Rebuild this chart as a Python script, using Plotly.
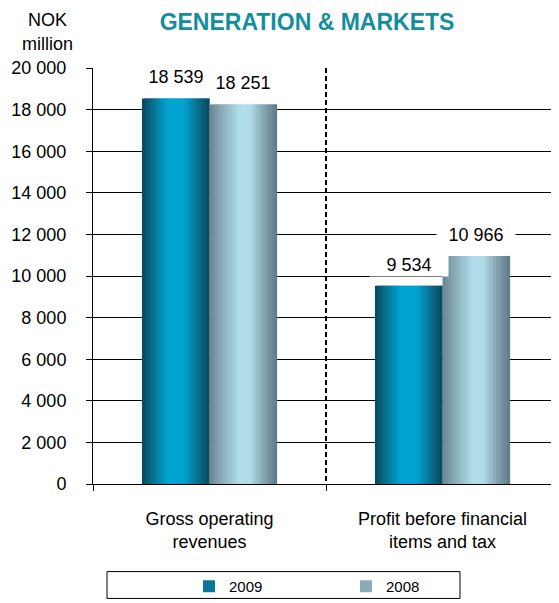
import plotly.graph_objects as go

categories = ["Gross operating<br>revenues", "Profit before financial<br>items and tax"]
series_names = ["2009", "2008"]
values_2009 = [18539, 9534]
values_2008 = [18251, 10966]
y_ticks = list(range(0, 20001, 2000))

# styling (the page body has an 8px default margin, so the figure is 8px smaller)
W, H = 551, 595
BAR_W = 0.29
N_SLICES = 24
stops_2009 = [(0.0, (8, 70, 90)), (0.15, (10, 110, 140)), (0.38, (0, 164, 210)), (0.62, (2, 162, 208)),
              (0.85, (10, 105, 135)), (1.0, (8, 72, 92))]
stops_2008 = [(0.0, (105, 133, 143)), (0.2, (140, 175, 188)), (0.45, (178, 222, 236)), (0.6, (176, 220, 234)),
              (0.82, (130, 160, 172)), (1.0, (92, 122, 134))]


def interp(stops, t):
    for (t0, c0), (t1, c1) in zip(stops[:-1], stops[1:]):
        if t0 <= t <= t1:
            f = (t - t0) / (t1 - t0) if t1 > t0 else 0
            c = [round(a + (b - a) * f) for a, b in zip(c0, c1)]
            return "rgb(%d,%d,%d)" % tuple(c)
    return "rgb(%d,%d,%d)" % stops[-1][1]


fig = go.Figure()
sw = BAR_W / N_SLICES
for name, vals, stops, base_off, legend_k in [
    ("2009", values_2009, stops_2009, -BAR_W, 4),
    ("2008", values_2008, stops_2008, 0.0, 4),
]:
    for k in range(N_SLICES):
        t = (k + 0.5) / N_SLICES
        fig.add_trace(go.Bar(
            x=categories, y=vals, name=name, legendgroup=name,
            showlegend=(k == legend_k),
            width=sw * (2.0 if k < N_SLICES - 1 else 1.0), offset=base_off + k * sw,
            marker=dict(color=interp(stops, t), line=dict(width=0)),
            hoverinfo="skip" if k != N_SLICES // 2 else "x+y+name",
        ))

# value labels with white boxes
for i, cat in enumerate(categories):
    for vals, dx in [(values_2009, -BAR_W / 2), (values_2008, BAR_W / 2)]:
        fig.add_annotation(
            x=i + dx, y=vals[i], xref="x", yref="y",
            text=f"{vals[i]:,}".replace(",", " "),
            showarrow=False, yanchor="bottom", yshift=9,
            bgcolor="white", width=76, borderpad=1,
            font=dict(family="Arial, Liberation Sans", size=18, color="black"),
        )

fig.add_annotation(text="NOK", xref="paper", yref="paper", x=(47 - 93) / 466, y=(486 - 20) / 418,
                   showarrow=False, xanchor="center", yanchor="middle",
                   font=dict(family="Arial, Liberation Sans", size=18, color="black"))
fig.add_annotation(text="million", xref="paper", yref="paper", x=(47 - 93) / 466, y=(486 - 44) / 418,
                   showarrow=False, xanchor="center", yanchor="middle",
                   font=dict(family="Arial, Liberation Sans", size=18, color="black"))

# legend box
fig.add_shape(type="rect", xref="paper", yref="paper",
              x0=(107 - 93) / 466, x1=(460 - 93) / 466,
              y0=(486 - 601) / 418, y1=(486 - 574) / 418,
              line=dict(color="black", width=1), fillcolor="rgba(0,0,0,0)")

fig.update_layout(
    width=W, height=H,
    margin=dict(l=85, r=0, t=60, b=117),
    paper_bgcolor="white", plot_bgcolor="white",
    separators=". ",
    barmode="overlay",
    title=dict(text="<b>GENERATION & MARKETS</b>", x=299 / W, xanchor="center",
               xref="container", yref="container", y=1 - 6 / H, yanchor="top",
               font=dict(family="Arial, Liberation Sans", size=23, color="#138e9e")),
    font=dict(family="Arial, Liberation Sans", size=18, color="black"),
    showlegend=True,
    legend=dict(orientation="h", x=(189 - 93) / 466, xanchor="left",
                y=(486 - 589) / 418, yanchor="middle",
                entrywidth=112, entrywidthmode="pixels",
                font=dict(family="Arial, Liberation Sans", size=15, color="black"),
                bgcolor="rgba(0,0,0,0)", borderwidth=0),
    xaxis=dict(type="category", range=[-0.5, 1.5], tickson="boundaries",
               ticks="outside", ticklen=6, tickcolor="black", tickwidth=1,
               showline=True, linecolor="black", linewidth=1,
               showgrid=True, gridcolor="black", gridwidth=2, griddash="5px,3px",
               ticklabelstandoff=18,
               tickfont=dict(size=18, color="black")),
    yaxis=dict(range=[0, 20000], tickvals=y_ticks, tickformat=",d",
               ticks="outside", ticklen=6, tickcolor="black", tickwidth=1,
               showline=True, linecolor="black", linewidth=1,
               showgrid=True, gridcolor="black", gridwidth=1,
               zeroline=False, ticklabelstandoff=16,
               tickfont=dict(size=18, color="black")),
)

fig.write_html("out.html")
